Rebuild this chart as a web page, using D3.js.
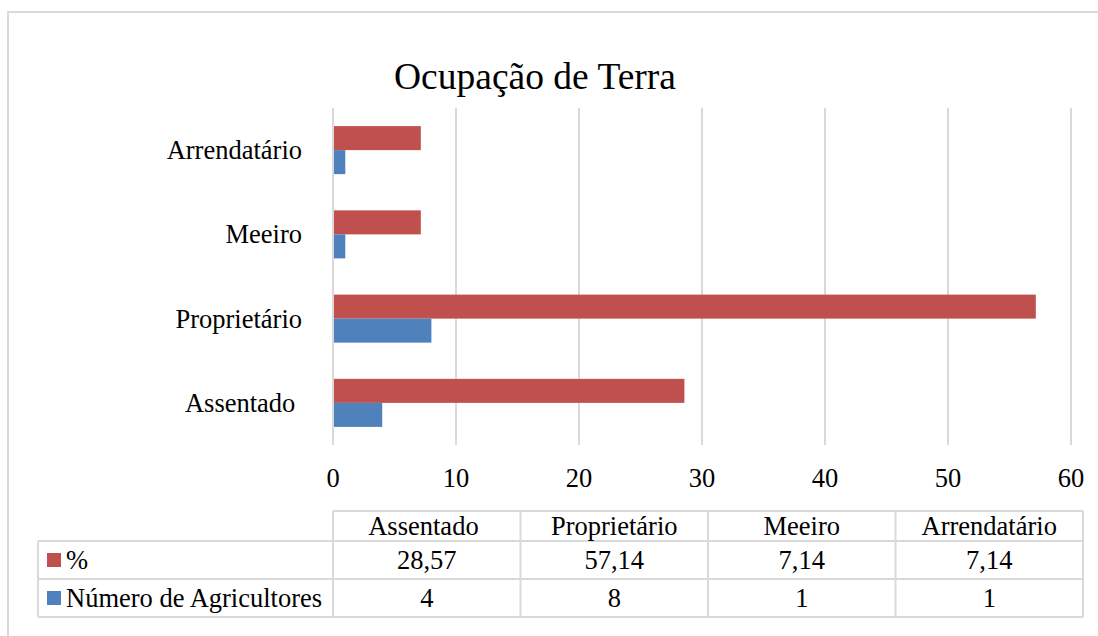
<!DOCTYPE html>
<html>
<head>
<meta charset="utf-8">
<script src="https://cdn.jsdelivr.net/npm/d3@7"></script>
<style>
  body { margin: 0; background: #fff; }
  text { white-space: pre; }
</style>
</head>
<body>
<div id="chart"></div>
<script>
// data, in the order the data table lists it
// (the source sheet has a trailing space after "Assentado")
var categories = ["Assentado ", "Proprietário", "Meeiro", "Arrendatário"];
var seriesNames = ["%", "Número de Agricultores"];
var percentValues = [28.57, 57.14, 7.14, 7.14];
var farmerCounts = [4, 8, 1, 1];
var percentLabels = ["28,57", "57,14", "7,14", "7,14"];
var countLabels = ["4", "8", "1", "1"];
var xTicks = [0, 10, 20, 30, 40, 50, 60];
var colors = ["#C0504D", "#4F81BD"];

var W = 1098, H = 636;
var grid = "#d9d9d9";
var font = "Liberation Serif, Times New Roman, DejaVu Serif, serif";
var fs = 26.5;

var svg = d3.select("#chart").append("svg")
    .attr("width", W)
    .attr("height", H)
    .style("display", "block");

// outer chart frame (runs off the right and bottom edge)
svg.append("rect")
    .attr("x", 8).attr("y", 12)
    .attr("width", 1200).attr("height", 700)
    .attr("fill", "none")
    .attr("stroke", grid)
    .attr("stroke-width", 2);

svg.append("text")
    .attr("x", 535).attr("y", 89)
    .attr("text-anchor", "middle")
    .attr("font-family", font)
    .attr("font-size", 37.5)
    .attr("fill", "#000")
    .text("Ocupação de Terra");

var x = d3.scaleLinear().domain([0, 60]).range([333, 1071]);

// bottom category is the first one, like Excel does it
var y = d3.scaleBand()
    .domain(categories.slice().reverse())
    .range([108, 445])
    .paddingInner(0.43)
    .paddingOuter(0.215);

var ySub = d3.scaleBand()
    .domain(seriesNames)
    .range([0, y.bandwidth()]);

// vertical gridlines
svg.selectAll(".grid")
    .data(xTicks)
    .enter()
    .append("line")
    .attr("x1", function (d) { return x(d); })
    .attr("x2", function (d) { return x(d); })
    .attr("y1", 108)
    .attr("y2", 445)
    .attr("stroke", grid)
    .attr("stroke-width", 2);

// x tick labels
svg.selectAll(".xlab")
    .data(xTicks)
    .enter()
    .append("text")
    .attr("x", function (d) { return x(d); })
    .attr("y", 487)
    .attr("text-anchor", "middle")
    .attr("font-family", font)
    .attr("font-size", fs)
    .text(function (d) { return d; });

// category labels
svg.selectAll(".ylab")
    .data(categories)
    .enter()
    .append("text")
    .attr("x", 302)
    .attr("y", function (d) { return y(d) + y.bandwidth() / 2 + 9; })
    .attr("text-anchor", "end")
    .attr("font-family", font)
    .attr("font-size", fs)
    .text(function (d) { return d; });

var rows = categories.map(function (c, i) {
    return { cat: c, values: [percentValues[i], farmerCounts[i]] };
});

var groups = svg.selectAll(".grp")
    .data(rows)
    .enter()
    .append("g")
    .attr("transform", function (d) { return "translate(0," + y(d.cat) + ")"; });

groups.selectAll("rect")
    .data(function (d) {
        return d.values.map(function (v, j) { return { s: seriesNames[j], v: v, j: j }; });
    })
    .enter()
    .append("rect")
    .attr("x", x(0) + 1)
    .attr("y", function (d) { return ySub(d.s); })
    .attr("width", function (d) { return x(d.v) - x(0) - 1; })
    .attr("height", ySub.bandwidth())
    .attr("fill", function (d) { return colors[d.j]; });

// data table
var tLeft = 38, tX0 = 333, tX1 = 1083;
var rowY = [511, 541, 579, 617];
var col = d3.scaleBand().domain(categories).range([tX0, tX1]);

var tbl = svg.append("g")
    .attr("stroke", grid)
    .attr("stroke-width", 2);

// horizontal lines
tbl.append("line").attr("x1", tX0).attr("x2", tX1).attr("y1", rowY[0]).attr("y2", rowY[0]);
[1, 2, 3].forEach(function (r) {
    tbl.append("line").attr("x1", tLeft).attr("x2", tX1).attr("y1", rowY[r]).attr("y2", rowY[r]);
});
// vertical lines
tbl.append("line").attr("x1", tLeft).attr("x2", tLeft).attr("y1", rowY[1]).attr("y2", rowY[3]);
categories.forEach(function (c) {
    tbl.append("line").attr("x1", col(c)).attr("x2", col(c)).attr("y1", rowY[0]).attr("y2", rowY[3]);
});
tbl.append("line").attr("x1", tX1).attr("x2", tX1).attr("y1", rowY[0]).attr("y2", rowY[3]);

var cellRows = [categories, percentLabels, countLabels];
cellRows.forEach(function (vals, r) {
    svg.selectAll(".cell" + r)
        .data(vals)
        .enter()
        .append("text")
        .attr("x", function (d, i) { return col(categories[i]) + col.bandwidth() / 2; })
        .attr("y", (rowY[r] + rowY[r + 1]) / 2 + 9)
        .attr("text-anchor", "middle")
        .attr("font-family", font)
        .attr("font-size", fs)
        .text(function (d) { return d; });
});

// legend keys in the table
seriesNames.forEach(function (s, i) {
    var cy = (rowY[i + 1] + rowY[i + 2]) / 2;
    svg.append("rect")
        .attr("x", 47).attr("y", cy - 7)
        .attr("width", 14).attr("height", 14)
        .attr("fill", colors[i]);
    svg.append("text")
        .attr("x", 66).attr("y", cy + 9)
        .attr("font-family", font)
        .attr("font-size", fs)
        .text(s);
});
</script>
</body>
</html>
